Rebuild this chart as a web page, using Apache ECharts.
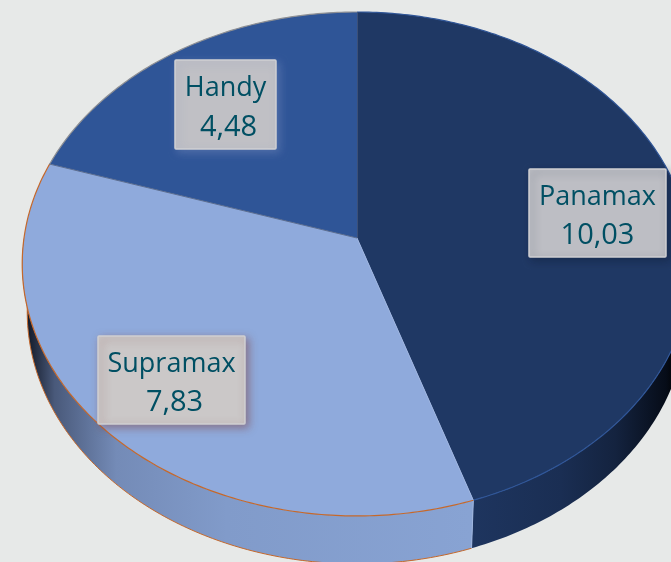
<!DOCTYPE html>
<html>
<head>
<meta charset="utf-8">
<title>Pie</title>
<script src="https://cdn.jsdelivr.net/npm/echarts@6/dist/echarts.min.js"></script>
<style>
  html, body { margin: 0; padding: 0; background: #e7e9e8; }
  #chart { width: 671px; height: 562px; }
</style>
</head>
<body>
<div id="chart"></div>
<script>
const categories = ["Panamax", "Supramax", "Handy"];
const values = [10.03, 7.83, 4.48];

const faceColors = ["#1f3864", "#8faadc", "#2f5597"];
const rimColors = ["#2f5597", "#c5682b", "#8d8f94"];
const seamColors = ["#47597f", "#9db4e0", "#5b6d90"];
const boxes = [
  { x: 529, y: 169, w: 137, h: 88, fill: "#bdbec4", shadow: "rgba(15,25,50,0.4)", valueShift: 0 },
  { x: 98, y: 336, w: 147, h: 88, fill: "#cbc8c8", shadow: "rgba(130,70,70,0.55)", valueShift: 3 },
  { x: 175, y: 60, w: 101, h: 89, fill: "#c0c0c5", shadow: "rgba(120,140,190,0.45)", valueShift: 3 },
];

// perspective disc, fitted to the tilted pie in the picture
const CX = 357;
const CY = 238;
const RX = 333;
const RY = 249.3;
const TILT = 0.103;
const DEPTH = 48;
const BOTTOM_SCALE = 0.985;

const total = values.reduce((sum, v) => sum + v, 0);

function project(angle) {
  const u = Math.sin(angle);
  const v = -Math.cos(angle);
  const w = 1 - TILT * v;
  return [CX + (RX * u) / w, CY + (RY * v) / w];
}

function sliceAngles(index) {
  const before = values.slice(0, index).reduce((sum, v) => sum + v, 0);
  const start = (before / total) * Math.PI * 2;
  return [start, start + (values[index] / total) * Math.PI * 2];
}

function arcPoints(start, end) {
  const steps = Math.ceil((end - start) / (Math.PI / 240));
  const points = [];
  for (let i = 0; i <= steps; i++) {
    points.push(project(start + ((end - start) * i) / steps));
  }
  return points;
}

// the lower rim sits a bit narrower than the top one
function dropPoints(points) {
  return points.map((p) => [CX + (p[0] - CX) * BOTTOM_SCALE, p[1] + DEPTH]);
}

function wallFill(index) {
  if (index === 0) {
    return new echarts.graphic.LinearGradient(470, 0, 672, 0, [
      { offset: 0, color: "#1e355f" },
      { offset: 0.45, color: "#1a2e53" },
      { offset: 0.72, color: "#14233f" },
      { offset: 0.97, color: "#060c18" },
      { offset: 1, color: "#03060c" },
    ], true);
  }
  return new echarts.graphic.LinearGradient(28, 0, 470, 0, [
    { offset: 0, color: "#141b2a" },
    { offset: 0.06, color: "#49597a" },
    { offset: 0.2, color: "#748bb7" },
    { offset: 0.45, color: "#819bca" },
    { offset: 1, color: "#88a3d3" },
  ], true);
}

function renderWall(params, api) {
  const index = api.value(0);
  const range = sliceAngles(index);
  // only the part of the rim facing the viewer has a wall
  const start = Math.max(range[0], Math.PI / 2);
  const end = Math.min(range[1], (Math.PI * 3) / 2);
  if (end <= start) {
    return null;
  }
  const top = arcPoints(start, end);
  const bottom = dropPoints(top);
  const children = [
    {
      type: "polygon",
      shape: { points: top.concat(bottom.slice().reverse()) },
      style: { fill: wallFill(index) },
    },
  ];
  if (index === 1) {
    children.push({
      type: "polyline",
      shape: { points: bottom },
      style: { fill: "none", stroke: rimColors[index], lineWidth: 1 },
    });
    children.push({
      type: "polyline",
      shape: { points: [top[0], bottom[0]] },
      style: { fill: "none", stroke: "#9fb6e0", lineWidth: 1 },
    });
  }
  return { type: "group", children };
}

function renderFace(params, api) {
  const index = api.value(0);
  const range = sliceAngles(index);
  const arc = arcPoints(range[0], range[1]);
  const center = [CX, CY];
  return {
    type: "group",
    children: [
      {
        type: "polygon",
        shape: { points: [center].concat(arc) },
        style: { fill: faceColors[index] },
      },
      {
        type: "polyline",
        shape: { points: arc },
        style: { fill: "none", stroke: rimColors[index], lineWidth: 1.2 },
      },
      {
        type: "polyline",
        shape: { points: [center, arc[0]] },
        style: { fill: "none", stroke: seamColors[index], lineWidth: index === 0 ? 1.5 : 1 },
      },
    ],
  };
}

function labelText(x, y, text, size) {
  return {
    type: "text",
    style: {
      x,
      y,
      text,
      fill: "#004f63",
      font: size + 'px "Open Sans"',
      align: "center",
      verticalAlign: "middle",
    },
  };
}

function renderLabel(params, api) {
  const index = api.value(0);
  const box = boxes[index];
  const midX = box.x + box.w / 2;
  const midY = box.y + box.h / 2;
  return {
    type: "group",
    children: [
      {
        type: "rect",
        shape: { x: box.x, y: box.y, width: box.w, height: box.h, r: 1 },
        style: {
          fill: box.fill,
          stroke: "#cfcfd2",
          lineWidth: 1.5,
          shadowColor: box.shadow,
          shadowBlur: 9,
          shadowOffsetX: 3,
          shadowOffsetY: 3,
        },
      },
      labelText(midX, midY - 16, categories[index], 27),
      labelText(midX + box.valueShift, midY + 23, String(values[index]).replace(".", ","), 29),
    ],
  };
}

const seriesData = values.map((value, index) => [index, value]);
const chart = echarts.init(document.getElementById("chart"));

chart.setOption({
  backgroundColor: "#e7e9e8",
  animation: false,
  series: [
    { type: "custom", coordinateSystem: "none", z: 1, silent: true, data: seriesData, renderItem: renderWall },
    { type: "custom", coordinateSystem: "none", z: 2, silent: true, data: seriesData, renderItem: renderFace },
    { type: "custom", coordinateSystem: "none", z: 3, silent: true, data: seriesData, renderItem: renderLabel },
  ],
});
</script>
</body>
</html>
